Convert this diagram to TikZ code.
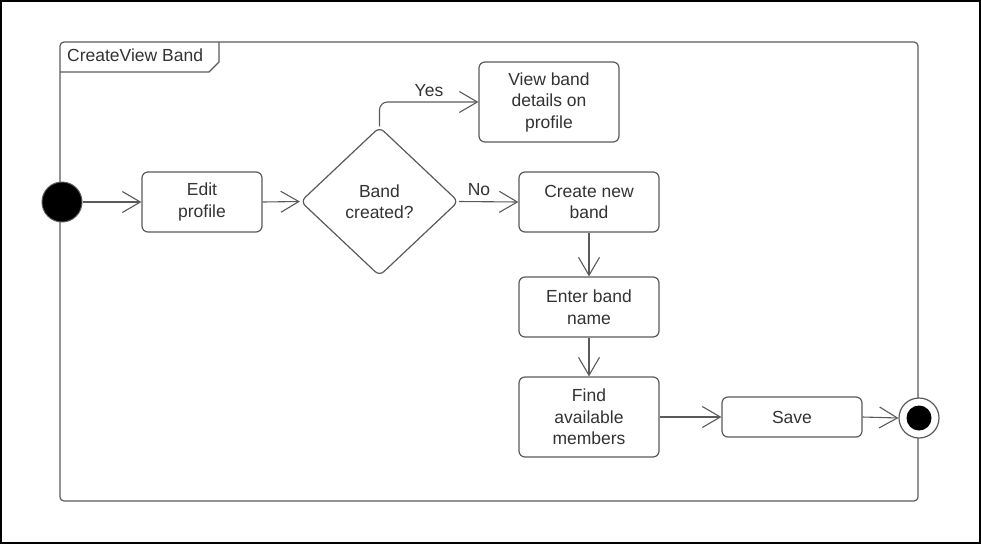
\documentclass[tikz,border=0pt]{standalone}
\usepackage{fontspec}
\setmainfont{Liberation Sans}
\usetikzlibrary{shapes.geometric,arrows.meta}
\definecolor{ln}{HTML}{5A5A5A}
\definecolor{tx}{HTML}{333333}
\begin{document}
\begin{tikzpicture}[x=1pt,y=-1pt,
  every node/.style={font=\fontsize{17.5}{21.5}\selectfont, text=tx},
  act/.style={draw=ln, line width=1.2pt, rounded corners=6pt, fill=white, align=center, inner sep=0pt},
  flow/.style={draw=ln, line width=1.1pt, -{Straight Barb[length=18pt,width=21pt,line width=1.1pt]}},
  lbl/.style={inner sep=0pt}]
\useasboundingbox (0,0) rectangle (981,544);
\draw[black, line width=2pt] (1,1) rectangle (980,543);
% frame
\draw[ln, line width=1.2pt, rounded corners=4pt] (60,42) rectangle (918,501);
\draw[ln, line width=1.2pt] (60,72) -- (209,72) -- (219,62) -- (219,42);
\node[lbl, anchor=west] (title) at (67,55) {CreateView Band};
% nodes
\node[circle, fill=black, draw=ln, line width=1pt, minimum size=40pt, inner sep=0pt] (init) at (62,202) {};
\node[act, minimum width=120pt, minimum height=60pt] (edit) at (202,202) {Edit\\profile};
\node[diamond, draw=ln, line width=1.2pt, fill=white, rounded corners=6pt, inner sep=0pt, aspect=1.06, minimum width=158pt, minimum height=149pt, align=center] (dec) at (379.5,201.5) {Band\\created?};
\node[act, minimum width=140pt, minimum height=80pt] (view) at (549,102) {View band\\details on\\profile};
\node[act, minimum width=140pt, minimum height=60pt] (create) at (589,202) {Create new\\band};
\node[act, minimum width=140pt, minimum height=60pt] (enter) at (589,307) {Enter band\\name};
\node[act, minimum width=140pt, minimum height=80pt] (find) at (589,417) {Find\\available\\members};
\node[act, minimum width=140pt, minimum height=40pt] (save) at (792,417) {Save};
\node[circle, draw=ln, line width=1.2pt, fill=white, minimum size=40pt, inner sep=0pt] (final) at (919,418) {};
\node[circle, fill=black, minimum size=25pt, inner sep=0pt] (finaldot) at (final.center) {};
% labels
\node[lbl] (yes) at (429,91) {Yes};
\node[lbl] (no) at (479,190) {No};
% connectors
\draw[flow] (init.east) -- (edit.west);
\draw[flow] (edit.east) -- (dec.west);
\draw[flow, rounded corners=8pt] (dec.north) |- (view.west);
\draw[flow] (dec.east) -- (create.west);
\draw[flow] (create.south) -- (enter.north);
\draw[flow] (enter.south) -- (find.north);
\draw[flow] (find.east) -- (save.west);
\draw[flow] (save.east) -- (final.west);
\end{tikzpicture}
\end{document}
